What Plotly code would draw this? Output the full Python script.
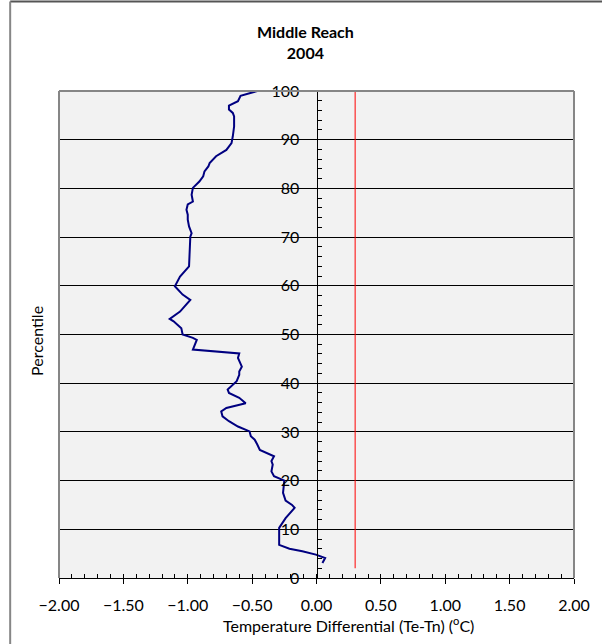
import plotly.graph_objects as go

# Data
blue_x = [0.046, 0.067, -0.005, -0.11, -0.21, -0.29, -0.29, -0.29, -0.24, -0.17, -0.19, -0.24,
          -0.26, -0.25, -0.33, -0.35, -0.34, -0.35, -0.33, -0.44, -0.46, -0.48, -0.51, -0.52,
          -0.61, -0.68, -0.73, -0.74, -0.70, -0.55, -0.60, -0.68, -0.69, -0.65, -0.62, -0.60,
          -0.60, -0.58, -0.60, -0.61, -0.60, -0.96, -0.93, -0.96, -1.04, -1.05, -1.11, -1.14,
          -1.06, -0.98, -1.04, -1.10, -1.06, -0.99, -0.98, -0.97, -0.99, -1.00, -1.00, -1.01,
          -1.00, -0.96, -0.97, -0.96, -0.91, -0.88, -0.87, -0.84, -0.83, -0.78, -0.70, -0.66,
          -0.65, -0.64, -0.64, -0.65, -0.68, -0.68, -0.61, -0.59, -0.46]
blue_y = [3.1, 4.1, 4.8, 5.5, 6.0, 6.8, 7.9, 10.3, 12.3, 14.4, 15.0, 15.9,
          17.5, 20.0, 20.9, 21.9, 23.3, 24.0, 25.0, 26.3, 27.4, 28.4, 29.1, 30.1,
          31.1, 32.2, 33.2, 34.2, 34.9, 35.9, 37.0, 38.0, 38.7, 39.7, 40.4, 41.7,
          42.4, 43.4, 44.5, 45.2, 46.1, 46.9, 48.9, 49.3, 50.0, 51.3, 52.7, 53.2,
          54.7, 57.1, 58.2, 59.9, 61.9, 64.0, 70.1, 70.8, 72.2, 73.6, 74.6, 75.6,
          76.7, 77.3, 78.7, 80.1, 81.4, 82.5, 83.5, 84.5, 85.2, 86.6, 87.9, 89.3,
          90.7, 92.7, 94.8, 95.5, 96.2, 97.0, 97.9, 99.0, 100.0]

red_x = [0.3, 0.3]
red_y = [2, 100]

title_lines = ["Middle Reach", "2004"]
x_title = "Temperature Differential (Te-Tn) (<sup>o</sup>C)"
y_title = "Percentile"

FONT = "Lato"
FS = 16

fig = go.Figure()
fig.add_trace(go.Scatter(x=red_x, y=red_y, mode="lines",
                         line=dict(color="#ff0000", width=1), showlegend=False))
fig.add_trace(go.Scatter(x=blue_x, y=blue_y, mode="lines",
                         line=dict(color="#000080", width=2), showlegend=False))
# dummy trace for overlay tick axes
fig.add_trace(go.Scatter(x=[None], y=[None], xaxis="x2", yaxis="y2",
                         showlegend=False, hoverinfo="skip"))

fig.update_layout(
    width=602, height=644,
    margin=dict(l=59, r=26, t=91, b=66),
    paper_bgcolor="white",
    plot_bgcolor="#f2f2f2",
    font=dict(family=FONT, size=FS, color="#000000"),
    xaxis=dict(range=[-2, 2], dtick=0.5, tick0=-2, tickformat=".2f",
               showgrid=False, zeroline=False,
               showline=True, linecolor="#000000", linewidth=1,
               ticks="outside", ticklen=5, tickcolor="#000000", tickwidth=1,
               ticklabelstandoff=8,
               minor=dict(ticks="inside", dtick=0.1, ticklen=4,
                          tickcolor="#000000", tickwidth=1, showgrid=False),
               tickfont=dict(size=FS, family=FONT)),
    yaxis=dict(range=[0, 100], dtick=10, anchor="free", position=0.5,
               showgrid=True, gridcolor="#000000", gridwidth=1,
               zeroline=False,
               showline=True, linecolor="#000000", linewidth=1,
               ticks="outside", ticklen=6, tickcolor="#000000", tickwidth=1,
               ticklabelstandoff=8,
               minor=dict(ticks="inside", dtick=2, ticklen=4,
                          tickcolor="#000000", tickwidth=1, showgrid=False),
               tickfont=dict(size=FS, family=FONT)),
    xaxis2=dict(range=[-2, 2], overlaying="x", anchor="y2", side="bottom",
                tickvals=[-2, -1.5, -1, -0.5, 0, 0.5, 1, 1.5, 2],
                ticks="inside", ticklen=4, tickcolor="#000000", tickwidth=1,
                showticklabels=False, showgrid=False, zeroline=False, showline=False),
    yaxis2=dict(range=[0, 100], overlaying="y", anchor="free", position=0.5,
                tickvals=[0, 10, 20, 30, 40, 50, 60, 70, 80, 90, 100],
                ticks="inside", ticklen=4, tickcolor="#000000", tickwidth=1,
                showticklabels=False, showgrid=False, zeroline=False, showline=False),
)

# plot area border (top, left, right) in gray
for x0, y0, x1, y1 in [(0, 1, 1, 1), (0, 0, 0, 1), (1, 0, 1, 1)]:
    fig.add_shape(type="line", xref="paper", yref="paper", x0=x0, y0=y0, x1=x1, y1=y1,
                  line=dict(color="#868686", width=2), layer="above")

# outer chart border (left and top visible)
fig.add_shape(type="line", xref="paper", yref="paper",
              x0=-0.0948, y0=1.1838, x1=1.06, y1=1.1838,
              line=dict(color="#555555", width=2))
fig.add_shape(type="line", xref="paper", yref="paper",
              x0=-0.0948, y0=-0.15, x1=-0.0948, y1=1.1838,
              line=dict(color="#868686", width=2))

fig.add_annotation(xref="paper", yref="paper", x=0.4778, y=1.1016,
                   text="<b>" + title_lines[0] + "</b><br><b>" + title_lines[1] + "</b>",
                   showarrow=False, xanchor="center", yanchor="middle",
                   font=dict(family=FONT, size=FS, color="#000000"))
fig.add_annotation(xref="paper", yref="paper", x=0.563, y=-0.0698,
                   text=x_title, showarrow=False, xanchor="center", yanchor="top",
                   font=dict(family=FONT, size=FS, color="#000000"))
fig.add_annotation(xref="paper", yref="paper", x=-0.0426, y=0.487,
                   text=y_title, textangle=-90, showarrow=False,
                   xanchor="center", yanchor="middle",
                   font=dict(family=FONT, size=FS, color="#000000"))

fig.write_html("out.html")
